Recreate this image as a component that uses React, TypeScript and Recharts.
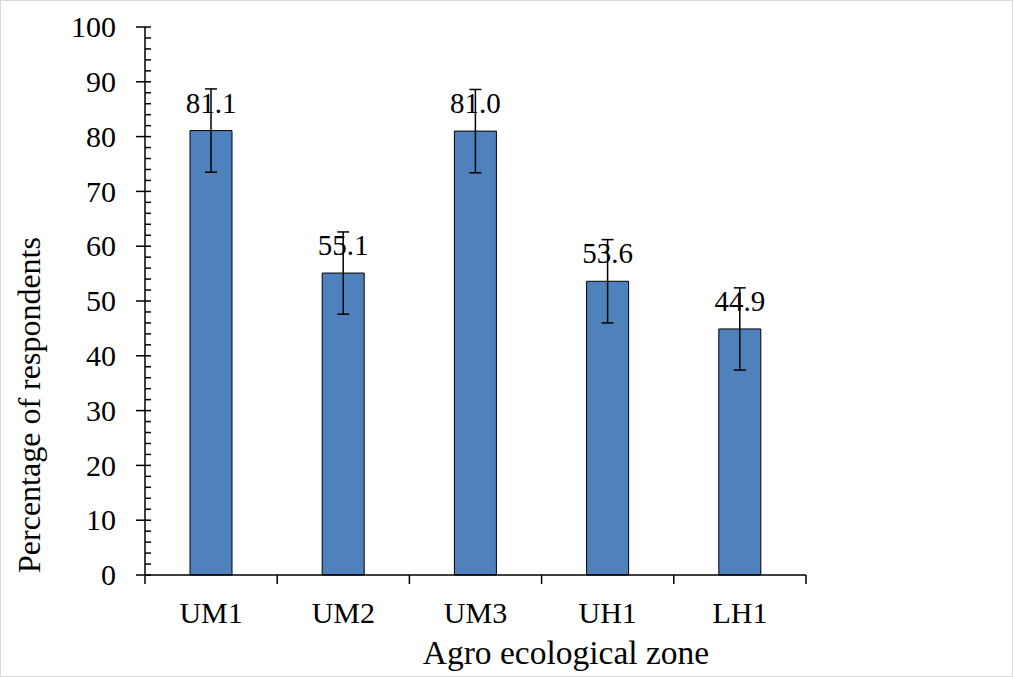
import React from "react";
import { BarChart, Bar, XAxis, YAxis, ErrorBar, LabelList } from "recharts";

const zones = ["UM1", "UM2", "UM3", "UH1", "LH1"];
const percentages = [81.1, 55.1, 81.0, 53.6, 44.9];
const errors = [7.6, 7.5, 7.6, 7.6, 7.5];
const yTicks = Array.from({ length: 51 }, (_, i) => i * 2);

const data = zones.map((zone, i) => ({
  zone,
  value: percentages[i],
  err: errors[i],
}));

const FONT = '"Liberation Serif", "Times New Roman", serif';
const W = 1011;
const H = 675;
const margin = { top: 26, right: 206, bottom: 0, left: 0 };
const yAxisWidth = 144;
const xAxisHeight = 101;
const plotWidth = W - margin.left - margin.right - yAxisWidth;
const band = plotWidth / zones.length;

function YTick(props: any) {
  const { x, y, payload } = props;
  const major = payload.value % 10 === 0;
  return (
    <g>
      <line
        x1={major ? x - 9 : x}
        x2={x + 6}
        y1={y}
        y2={y}
        stroke="#000"
        strokeWidth={1.5}
      />
      {major && (
        <text
          x={x - 29}
          y={y}
          dy="0.34em"
          textAnchor="end"
          fontSize={30}
          fontFamily={FONT}
          fill="#000"
        >
          {payload.value}
        </text>
      )}
    </g>
  );
}

function XTick(props: any) {
  const { x, y, payload, index } = props;
  const left = x - band / 2;
  const right = x + band / 2;
  return (
    <g>
      <line x1={left} x2={left} y1={y} y2={y + 9} stroke="#000" strokeWidth={1.5} />
      {index === zones.length - 1 && (
        <line x1={right} x2={right} y1={y} y2={y + 9} stroke="#000" strokeWidth={1.5} />
      )}
      <text
        x={x}
        y={y + 48}
        textAnchor="middle"
        fontSize={30}
        fontFamily={FONT}
        fill="#000"
      >
        {payload.value}
      </text>
    </g>
  );
}

export default function App() {
  return (
    <div
      style={{
        position: "absolute",
        left: 0,
        top: 0,
        width: 1013,
        height: 677,
        border: "1px solid #d9d9d9",
        boxSizing: "border-box",
        background: "#fff",
      }}
    >
      <BarChart width={W} height={H} data={data} margin={margin}>
        <XAxis
          dataKey="zone"
          height={xAxisHeight}
          axisLine={{ stroke: "#000", strokeWidth: 1.5 }}
          tickLine={false}
          tickSize={0}
          tickMargin={0}
          interval={0}
          tick={<XTick />}
        />
        <YAxis
          width={yAxisWidth}
          domain={[0, 100]}
          ticks={yTicks}
          interval={0}
          axisLine={{ stroke: "#000", strokeWidth: 1.5 }}
          tickLine={false}
          tickSize={0}
          tickMargin={0}
          tick={<YTick />}
        />
        <Bar
          dataKey="value"
          fill="#4f81bd"
          stroke="#000"
          strokeWidth={1}
          barSize={42}
          isAnimationActive={false}
        >
          <ErrorBar
            dataKey="err"
            width={6}
            stroke="#000"
            strokeWidth={1.5}
            direction="y"
            isAnimationActive={false}
          />
          <LabelList
            dataKey="value"
            position="top"
            offset={18}
            formatter={(v: any) => Number(v).toFixed(1)}
            fontSize={29}
            fontFamily={FONT}
            fill="#000"
          />
        </Bar>
        <text
          x={39}
          y={404}
          transform="rotate(-90, 39, 404)"
          textAnchor="middle"
          fontSize={32}
          fontFamily={FONT}
          fill="#000"
        >
          Percentage of respondents
        </text>
        <text
          x={565}
          y={663}
          textAnchor="middle"
          fontSize={33.5}
          fontFamily={FONT}
          fill="#000"
        >
          Agro ecological zone
        </text>
      </BarChart>
    </div>
  );
}
